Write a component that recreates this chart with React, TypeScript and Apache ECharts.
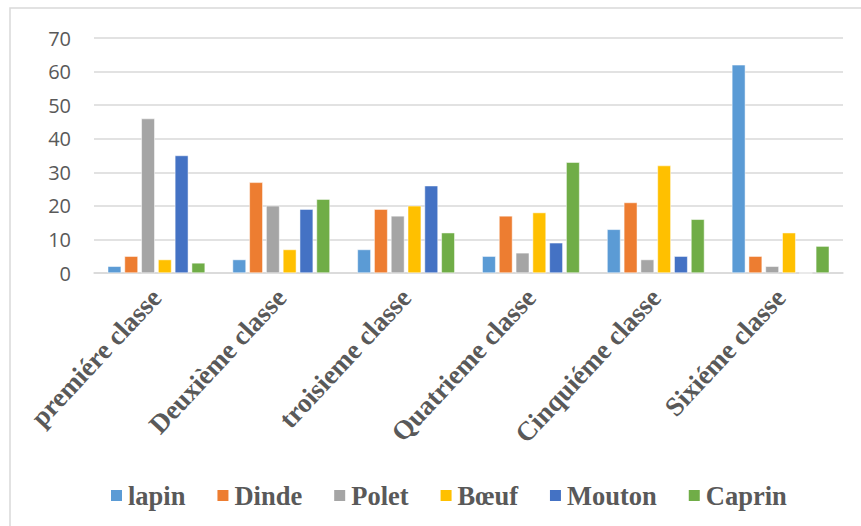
import React, { useEffect, useRef } from "react";
import * as echarts from "echarts";

const categories = [
  "premiére classe",
  "Deuxième classe",
  "troisieme classe",
  "Quatrieme classe",
  "Cinquiéme classe",
  "Sixiéme classe",
];
const seriesNames = ["lapin", "Dinde", "Polet", "Bœuf", "Mouton", "Caprin"];
const lapin = [2, 4, 7, 5, 13, 62];
const dinde = [5, 27, 19, 17, 21, 5];
const polet = [46, 20, 17, 6, 4, 2];
const boeuf = [4, 7, 20, 18, 32, 12];
const mouton = [35, 19, 26, 9, 5, 0];
const caprin = [3, 22, 12, 33, 16, 8];
const colors = ["#5B9BD5", "#ED7D31", "#A5A5A5", "#FFC000", "#4472C4", "#70AD47"];

export default function App() {
  const ref = useRef<HTMLDivElement>(null);
  useEffect(() => {
    if (!ref.current) return;
    const chart = echarts.init(ref.current, null, { renderer: "svg" });
    const data = [lapin, dinde, polet, boeuf, mouton, caprin];
    chart.setOption({
      animation: false,
      backgroundColor: "#ffffff",
      color: colors,
      grid: { left: 94, right: 18, top: 38, bottom: 253, containLabel: false },
      legend: {
        left: 104,
        top: 477,
        itemWidth: 13,
        itemHeight: 13,
        itemGap: 30,
        icon: "rect",
        textStyle: {
          fontFamily: "'Liberation Serif', 'Times New Roman', serif",
          fontWeight: "bold",
          fontSize: 26.5,
          color: "#595959",
        },
        data: seriesNames,
      },
      xAxis: {
        type: "category",
        data: categories,
        axisLine: { show: true, lineStyle: { color: "#d9d9d9", width: 1.5 } },
        axisTick: { show: false },
        axisLabel: {
          interval: 0,
          rotate: 47,
          margin: 20,
          fontFamily: "'Liberation Serif', 'Times New Roman', serif",
          fontWeight: "bold",
          fontSize: 27,
          color: "#595959",
        },
      },
      yAxis: {
        type: "value",
        min: 0,
        max: 70,
        interval: 10,
        axisLine: { show: false },
        axisTick: { show: false },
        splitLine: { lineStyle: { color: "#d9d9d9", width: 1.5 } },
        axisLabel: {
          margin: 23,
          fontFamily: "'Open Sans', sans-serif",
          fontSize: 20,
          color: "#595959",
        },
      },
      graphic: [
        {
          type: "polyline",
          shape: { points: [[10, 526], [10, 8], [861, 8]] },
          style: { stroke: "#d9d9d9", lineWidth: 1.5, fill: "none" },
          silent: true,
        },
      ],
      series: seriesNames.map((name, i) => ({
        name,
        type: "bar",
        data: data[i],
        barGap: "25%",
        barCategoryGap: "22%",
        itemStyle: { color: colors[i], borderColor: "#ffffff", borderWidth: 0.5 },
      })),
    });
    return () => chart.dispose();
  }, []);
  return (
    <div
      ref={ref}
      style={{ position: "fixed", left: 0, top: 0, width: 861, height: 526 }}
    />
  );
}
